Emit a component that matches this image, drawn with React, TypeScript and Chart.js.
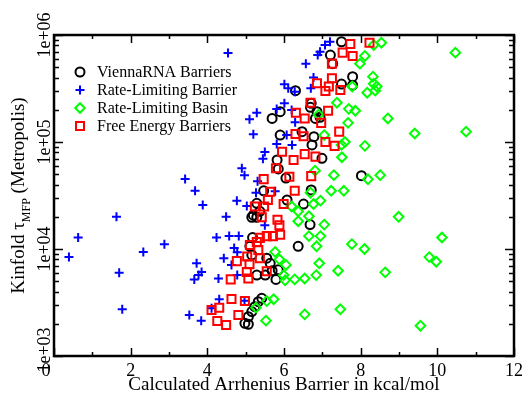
import React, { useEffect, useRef } from "react";
import { Chart, registerables } from "chart.js";

Chart.register(...registerables);

const seriesNames = [
  "ViennaRNA Barriers",
  "Rate-Limiting Barrier",
  "Rate-Limiting Basin",
  "Free Energy Barriers",
];

const viennaX = [7.5, 7.21, 7.27, 7.79, 7.5, 7.79, 6.3, 5.69, 5.9, 6.69, 6.86, 6.82, 5.9, 6.47, 6.78, 6.73, 6.99, 5.82, 5.85, 6.05, 8.02, 6.71, 5.47, 6.51, 6.08, 6.71, 6.94, 6.68, 6.37, 5.79, 5.51, 5.69, 5.2, 5.16, 5.29, 5.37, 5.18, 5.11, 5.16, 5.55, 5.64, 5.85, 5.29, 5.42, 5.33, 5.24, 5.16, 5.07, 4.98, 5.07, 5.29];
const viennaY = [8.65e5, 6.5e5, 5.4e5, 4.08e5, 3.48e5, 3.4e5, 3.02e5, 1.66e5, 1.92e5, 2.11e5, 1.92e5, 1.66e5, 1.16e5, 1.25e5, 1.12e5, 9.4e4, 7.04e4, 6.8e4, 5.6e4, 4.6e4, 4.84e4, 3.56e4, 3.5e4, 2.63e4, 2.87e4, 2.3e5, 1.7e5, 1.69e4, 1.06e4, 5.2e3, 5.7e3, 6.27e3, 2.07e4, 1.98e4, 1.98e4, 2.25e4, 1.28e4, 1.06e4, 8.8e3, 8.2e3, 7.35e3, 6.4e3, 5.7e3, 3.46e3, 3.22e3, 2.89e3, 2.6e3, 2.33e3, 2.02e3, 1.98e3, 2.67e4];

const barrierX = [4.54, 5.1, 5.29, 5.2, 5.45, 5.5, 4.9, 4.97, 3.42, 3.68, 5.31, 5.27, 3.88, 4.77, 5.03, 1.63, 4.49, 0.63, 4.24, 4.57, 4.82, 2.88, 2.33, 0.39, 4.7, 4.78, 4.43, 3.72, 1.7, 3.85, 3.77, 3.66, 4.29, 4.78, 4.31, 4.97, 4.11, 1.78, 3.53, 3.84, 6.01, 6.11, 6.01, 5.81, 6.07, 7.2, 7.07, 6.94, 6.88, 6.57, 6.77, 6.7, 6.2, 6.29, 5.81, 5.77, 5.5, 4.63, 6.21, 6.28];
const barrierY = [6.8e5, 1.63e5, 1.88e5, 1.18e5, 6.98e4, 8.07e4, 5.68e4, 4.9e4, 4.5e4, 3.5e4, 4.3e4, 3.36e4, 2.58e4, 2.83e4, 2.52e4, 2.0e4, 2.0e4, 1.28e4, 1.28e4, 1.32e4, 1.32e4, 1.11e4, 9.4e3, 8.4e3, 1.02e4, 9.3e3, 8.2e3, 7.35e3, 6.0e3, 6.1e3, 5.7e3, 5.2e3, 5.3e3, 5.7e3, 3.39e3, 3.29e3, 2.79e3, 2.73e3, 2.42e3, 2.14e3, 3.46e5, 3.18e5, 2.3e5, 2.03e5, 1.16e5, 8.65e5, 8.07e5, 6.98e5, 6.5e5, 5.4e5, 4.0e5, 3.18e5, 1.99e5, 1.53e5, 9.6e4, 3.46e4, 1.67e4, 7.1e3, 9.4e4, 2.95e5];

const basinX = [8.54, 8.34, 10.47, 8.11, 7.98, 8.32, 8.34, 8.42, 8.38, 8.17, 7.78, 7.38, 7.69, 7.86, 8.71, 7.67, 9.41, 10.75, 7.59, 8.11, 7.51, 7.3, 8.19, 8.51, 6.81, 7.23, 7.56, 6.69, 6.77, 6.95, 6.9, 7.05, 7.5, 6.2, 6.37, 6.65, 6.37, 7.05, 6.65, 6.95, 7.77, 6.85, 8.1, 8.99, 10.12, 9.79, 9.97, 8.64, 7.41, 6.84, 6.92, 5.77, 5.88, 6.05, 5.99, 6.03, 6.28, 6.54, 5.73, 5.53, 6.54, 7.47, 9.56, 5.55, 5.27];
const basinY = [8.47e5, 8.07e5, 6.84e5, 6.37e5, 5.4e5, 4.08e5, 3.5e5, 3.3e5, 3.02e5, 2.89e5, 3.3e5, 2.33e5, 2.04e5, 1.96e5, 1.66e5, 1.51e5, 1.2e5, 1.25e5, 1.0e5, 9.2e4, 7.2e4, 4.9e4, 4.48e4, 4.9e4, 5.4e4, 3.5e4, 3.5e4, 3.36e4, 2.63e4, 2.83e4, 1.8e5, 1.16e5, 9.4e4, 2.5e4, 2.25e4, 2.02e4, 1.82e4, 1.69e4, 1.32e4, 1.32e4, 1.11e4, 1.06e4, 1.0e4, 2.0e4, 1.28e4, 8.4e3, 7.6e3, 6.05e3, 6.27e3, 5.7e3, 7.35e3, 9.4e3, 8.0e3, 7.1e3, 5.7e3, 5.1e3, 5.2e3, 5.3e3, 3.39e3, 2.14e3, 2.45e3, 2.73e3, 1.92e3, 3.26e3, 2.83e3];

const freeX = [7.73, 8.23, 7.53, 7.79, 7.25, 7.25, 6.86, 7.17, 7.08, 7.47, 6.69, 7.15, 6.31, 6.54, 6.97, 7.44, 6.3, 6.51, 7.08, 7.32, 5.95, 6.54, 6.82, 6.25, 5.79, 6.14, 6.71, 5.47, 5.64, 6.28, 5.58, 5.99, 5.24, 5.48, 5.42, 5.83, 5.88, 5.9, 5.71, 5.55, 5.37, 5.29, 5.11, 4.77, 5.04, 5.1, 5.03, 5.07, 5.37, 5.33, 5.55, 4.61, 4.63, 4.98, 4.31, 4.11, 4.81, 4.26, 4.49];
const freeY = [8.24e5, 8.47e5, 6.84e5, 6.37e5, 5.4e5, 3.94e5, 3.54e5, 3.3e5, 3.0e5, 3.06e5, 2.33e5, 1.96e5, 1.88e5, 1.66e5, 1.51e5, 1.25e5, 1.19e5, 1.13e5, 1.0e5, 9.2e4, 8.1e4, 7.7e4, 7.3e4, 6.8e4, 5.68e4, 4.74e4, 4.8e4, 4.5e4, 3.43e4, 3.5e4, 2.87e4, 2.63e4, 2.5e4, 2.5e4, 1.98e4, 1.88e4, 1.67e4, 1.36e4, 1.32e4, 1.32e4, 1.27e4, 1.16e4, 1.09e4, 7.7e3, 8.5e3, 7.2e3, 6.1e3, 5.3e3, 8.2e3, 9.8e3, 6.2e3, 5.2e3, 3.41e3, 3.26e3, 2.83e3, 2.69e3, 2.42e3, 2.12e3, 1.95e3];

const xTickLabels = ["0", "2", "4", "6", "8", "10", "12"];
const yTickLabels = ["1e+03", "1e+04", "1e+05", "1e+06"];
const xTitle = "Calculated Arrhenius Barrier in kcal/mol";
const yTitleMain = "Kinfold \u03c4";
const yTitleSub = "MFP";
const yTitleTail = " (Metropolis)";

const SERIF = "'Liberation Serif', 'Times New Roman', serif";

function pts(xs: number[], ys: number[]) {
  return xs.map((x, i) => ({ x, y: ys[i] }));
}

function drawMarker(ctx: CanvasRenderingContext2D, kind: number, x: number, y: number) {
  ctx.save();
  ctx.lineWidth = 2;
  ctx.beginPath();
  if (kind === 0) {
    ctx.strokeStyle = "#000000";
    ctx.arc(x, y, 4.5, 0, Math.PI * 2);
  } else if (kind === 1) {
    ctx.strokeStyle = "#0000ff";
    ctx.moveTo(x - 4.5, y);
    ctx.lineTo(x + 4.5, y);
    ctx.moveTo(x, y - 4.5);
    ctx.lineTo(x, y + 4.5);
  } else if (kind === 2) {
    ctx.strokeStyle = "#00ff00";
    ctx.moveTo(x, y - 4.8);
    ctx.lineTo(x + 4.8, y);
    ctx.lineTo(x, y + 4.8);
    ctx.lineTo(x - 4.8, y);
    ctx.closePath();
  } else {
    ctx.strokeStyle = "#ff0000";
    ctx.rect(x - 4, y - 4, 8, 8);
  }
  ctx.stroke();
  ctx.restore();
}

const decorPlugin = {
  id: "decor",
  afterDraw(chart: any) {
    const ctx: CanvasRenderingContext2D = chart.ctx;
    const { left, right, top, bottom } = chart.chartArea;
    const xs = chart.scales.x;
    const ys = chart.scales.y;
    ctx.save();
    ctx.strokeStyle = "#000";
    ctx.fillStyle = "#000";
    // ticks
    ctx.lineWidth = 1.5;
    ctx.beginPath();
    for (let v = 0; v <= 12; v++) {
      const px = Math.round(xs.getPixelForValue(v)) + 0.5;
      const len = v % 2 === 0 ? 8 : 4;
      ctx.moveTo(px, bottom);
      ctx.lineTo(px, bottom - len);
      ctx.moveTo(px, top);
      ctx.lineTo(px, top + len);
    }
    for (let d = 3; d <= 6; d++) {
      for (let m = 1; m <= 9; m++) {
        const val = m * Math.pow(10, d);
        if (val > 1e6) break;
        const py = Math.round(ys.getPixelForValue(val)) + 0.5;
        const len = m === 1 ? 9 : 5;
        ctx.moveTo(left, py);
        ctx.lineTo(left + len, py);
        ctx.moveTo(right, py);
        ctx.lineTo(right - len, py);
      }
    }
    ctx.stroke();
    // frame
    ctx.lineWidth = 2.5;
    ctx.strokeRect(left, top, right - left, bottom - top);

    // x tick labels
    ctx.font = `18px ${SERIF}`;
    ctx.textAlign = "center";
    ctx.textBaseline = "alphabetic";
    xTickLabels.forEach((t, i) => {
      const px = xs.getPixelForValue(Number(t));
      ctx.fillText(t, i === 0 ? px - 8 : px, 376);
    });
    // y tick labels (rotated)
    yTickLabels.forEach((t, i) => {
      const val = Number(t);
      const py = ys.getPixelForValue(val);
      ctx.save();
      ctx.translate(50, i === 0 ? py - 6 : py);
      ctx.rotate(-Math.PI / 2);
      ctx.textAlign = "center";
      ctx.fillText(t, 0, 0);
      ctx.restore();
    });
    // x title
    ctx.font = `19px ${SERIF}`;
    ctx.textAlign = "center";
    ctx.fillText(xTitle, (left + right) / 2, 390);
    // y title with subscript
    ctx.save();
    ctx.font = `19px ${SERIF}`;
    const w1 = ctx.measureText(yTitleMain).width;
    const w3 = ctx.measureText(yTitleTail).width;
    ctx.font = `12px ${SERIF}`;
    const w2 = ctx.measureText(yTitleSub).width;
    const total = w1 + w2 + w3;
    ctx.translate(24, (top + bottom) / 2);
    ctx.rotate(-Math.PI / 2);
    ctx.textAlign = "left";
    let cx = -total / 2;
    ctx.font = `19px ${SERIF}`;
    ctx.fillText(yTitleMain, cx, 0);
    cx += w1;
    ctx.font = `12px ${SERIF}`;
    ctx.fillText(yTitleSub, cx, 6);
    cx += w2;
    ctx.font = `19px ${SERIF}`;
    ctx.fillText(yTitleTail, cx, 0);
    ctx.restore();

    // legend
    ctx.font = `16px ${SERIF}`;
    ctx.textAlign = "left";
    ctx.textBaseline = "middle";
    seriesNames.forEach((name, i) => {
      const y = 72 + i * 18;
      drawMarker(ctx, i, 80, y);
      ctx.fillStyle = "#000";
      ctx.fillText(name, 97, y + 1);
    });
    ctx.restore();
  },
};

export default function App() {
  const ref = useRef<HTMLCanvasElement | null>(null);
  useEffect(() => {
    if (!ref.current) return;
    const chart = new Chart(ref.current, {
      type: "scatter",
      data: {
        datasets: [
          {
            label: seriesNames[0],
            data: pts(viennaX, viennaY),
            pointStyle: "circle",
            pointRadius: 4.5,
            pointHoverRadius: 4.5,
            borderColor: "#000000",
            backgroundColor: "rgba(0,0,0,0)",
            pointBorderWidth: 2,
            order: 3,
          },
          {
            label: seriesNames[1],
            data: pts(barrierX, barrierY),
            pointStyle: "cross",
            pointRadius: 4.5,
            pointHoverRadius: 4.5,
            borderColor: "#0000ff",
            backgroundColor: "#0000ff",
            pointBorderWidth: 2,
            order: 2,
          },
          {
            label: seriesNames[2],
            data: pts(basinX, basinY),
            pointStyle: "rectRot",
            pointRadius: 4.8,
            pointHoverRadius: 4.8,
            borderColor: "#00ff00",
            backgroundColor: "rgba(0,0,0,0)",
            pointBorderWidth: 2,
            order: 1,
          },
          {
            label: seriesNames[3],
            data: pts(freeX, freeY),
            pointStyle: "rect",
            pointRadius: 5.7,
            pointHoverRadius: 5.7,
            borderColor: "#ff0000",
            backgroundColor: "rgba(0,0,0,0)",
            pointBorderWidth: 2,
            order: 0,
          },
        ],
      },
      options: {
        animation: false,
        responsive: false,
        events: [],
        layout: { padding: { left: 54, top: 35, right: 10, bottom: 39 } },
        plugins: { legend: { display: false }, tooltip: { enabled: false } },
        scales: {
          x: { type: "linear", min: 0, max: 12, display: false },
          y: { type: "logarithmic", min: 1000, max: 1000000, display: false },
        },
      },
      plugins: [decorPlugin],
    });
    return () => chart.destroy();
  }, []);
  return (
    <div style={{ position: "absolute", left: 0, top: 0, width: 524, height: 395, background: "#fff" }}>
      <canvas ref={ref} width={524} height={395} />
    </div>
  );
}
